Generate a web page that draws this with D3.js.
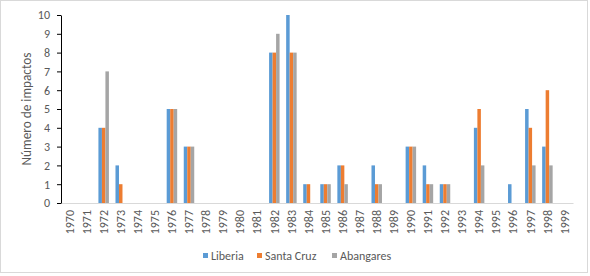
<!DOCTYPE html>
<html>
<head>
<meta charset="utf-8">
<script src="https://cdn.jsdelivr.net/npm/d3@7"></script>
<style>
    body { margin: 0; background: #fff; }
    text { font-family: Calibri, Carlito, "Liberation Sans", Arial, sans-serif; }
</style>
</head>
<body>
<div class="chart"></div>
<script>
// data
const years = ["1970", "1971", "1972", "1973", "1974", "1975", "1976", "1977", "1978", "1979",
    "1980", "1981", "1982", "1983", "1984", "1985", "1986", "1987", "1988", "1989",
    "1990", "1991", "1992", "1993", "1994", "1995", "1996", "1997", "1998", "1999"];
const liberia =    [0, 0, 4, 2, 0, 0, 5, 3, 0, 0, 0, 0, 8, 10, 1, 1, 2, 0, 2, 0, 3, 2, 1, 0, 4, 0, 1, 5, 3, 0];
const santaCruz =  [0, 0, 4, 1, 0, 0, 5, 3, 0, 0, 0, 0, 8, 8, 1, 1, 2, 0, 1, 0, 3, 1, 1, 0, 5, 0, 0, 4, 6, 0];
const abangares =  [0, 0, 7, 0, 0, 0, 5, 3, 0, 0, 0, 0, 9, 8, 0, 1, 1, 0, 1, 0, 3, 1, 1, 0, 2, 0, 0, 2, 2, 0];
const yTicks = [0, 1, 2, 3, 4, 5, 6, 7, 8, 9, 10];

const series = [
    {name: "Liberia", color: "#5b9bd5", values: liberia},
    {name: "Santa Cruz", color: "#ed7d31", values: santaCruz},
    {name: "Abangares", color: "#a5a5a5", values: abangares}
];

const width = 590;
const height = 276;
const margin = {top: 15, right: 17, bottom: 73, left: 61};

const svg = d3.select(".chart")
    .append("svg")
    .attr("width", width)
    .attr("height", height);

// light frame round the chart
svg.append("rect")
    .attr("x", 0.5)
    .attr("y", 0.5)
    .attr("width", 587)
    .attr("height", 272)
    .attr("fill", "#fff")
    .attr("stroke", "#d9d9d9");

const x = d3.scaleBand()
    .domain(years)
    .range([margin.left, width - margin.right])
    .padding(0);

// three bars inside each year
const x1 = d3.scaleBand()
    .domain(series.map(s => s.name))
    .range([0, x.bandwidth()])
    .paddingInner(0)
    .paddingOuter(0.94);

const y = d3.scaleLinear()
    .domain([0, 10])
    .range([height - margin.bottom, margin.top]);

// x axis, grey line, no ticks
const xAxis = svg.append("g")
    .attr("transform", `translate(0, ${height - margin.bottom})`)
    .call(d3.axisBottom(x).tickSize(0).tickPadding(0));
xAxis.select(".domain").attr("stroke", "#d9d9d9").attr("stroke-width", 1);
xAxis.selectAll("text")
    .attr("transform", "rotate(-90)")
    .attr("x", -7)
    .attr("y", 0)
    .attr("dy", "0.35em")
    .style("text-anchor", "end")
    .style("font-size", "12px")
    .attr("fill", "#595959");

// bars
svg.append("g")
    .selectAll("g")
    .data(series)
    .join("g")
    .attr("fill", d => d.color)
    .selectAll("rect")
    .data(s => s.values.map((v, i) => ({year: years[i], value: v, name: s.name})))
    .join("rect")
    .attr("x", d => x(d.year) + x1(d.name))
    .attr("y", d => y(d.value))
    .attr("width", x1.bandwidth())
    .attr("height", d => y(0) - y(d.value));

// y axis, black line with outside ticks
const yAxis = svg.append("g")
    .attr("transform", `translate(${margin.left}, 0)`)
    .call(d3.axisLeft(y).tickValues(yTicks).tickSize(4).tickSizeOuter(0).tickPadding(7));
yAxis.select(".domain").attr("stroke", "#000");
yAxis.selectAll(".tick line").attr("stroke", "#000");
yAxis.selectAll("text")
    .style("font-size", "12px")
    .attr("fill", "#595959");

svg.append("text")
    .attr("transform", `translate(31, ${(y(0) + y(10)) / 2}) rotate(-90)`)
    .style("text-anchor", "middle")
    .style("font-size", "13.3px")
    .attr("fill", "#595959")
    .text("Número de impactos");

// legend along the bottom
const legendX = [203, 257, 332];
const legend = svg.selectAll(".legend")
    .data(series)
    .join("g")
    .attr("class", "legend")
    .attr("transform", (d, i) => `translate(${legendX[i]}, 256)`);

legend.append("rect")
    .attr("x", 0)
    .attr("y", -3)
    .attr("width", 5)
    .attr("height", 5)
    .attr("fill", d => d.color);

legend.append("text")
    .attr("x", 8)
    .attr("y", 0)
    .attr("dy", "0.35em")
    .style("font-size", "12px")
    .attr("fill", "#595959")
    .text(d => d.name);
</script>
</body>
</html>
